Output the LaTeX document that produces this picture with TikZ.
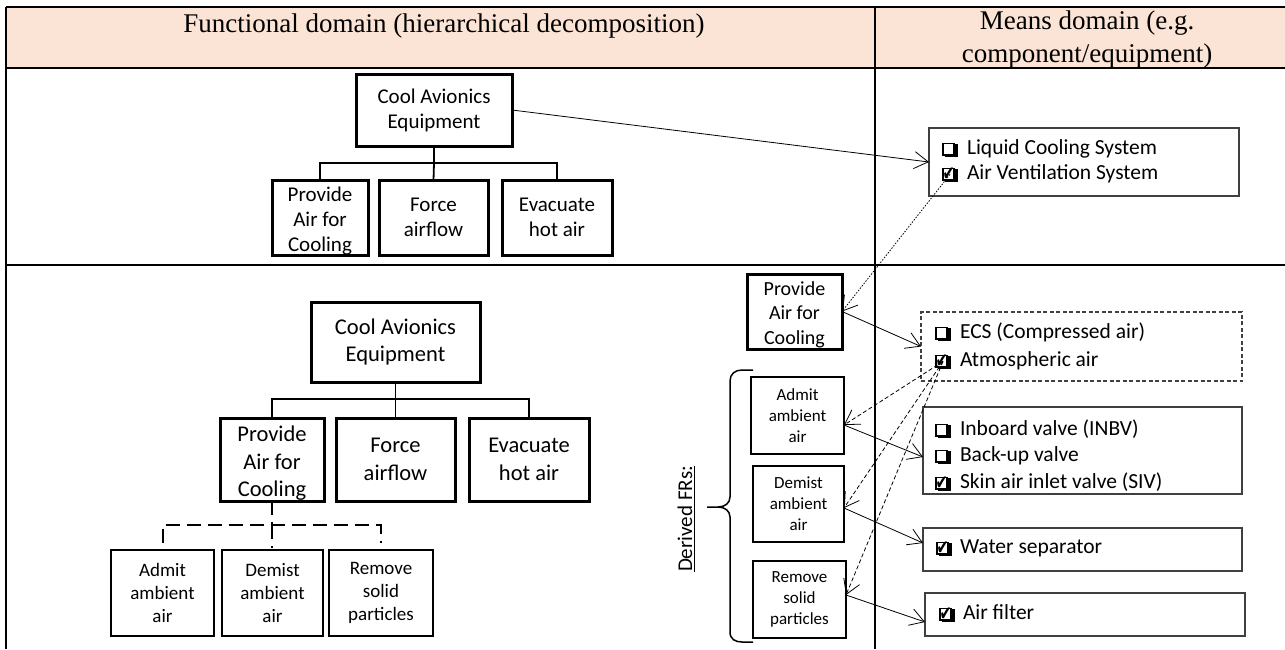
\documentclass[tikz,border=0pt]{standalone}
\usepackage{fontspec}
\usepackage{graphicx}
\setmainfont{Liberation Serif}
\newfontfamily\calfont{Carlito}
\newfontfamily\dvfont{DejaVu Sans}
\usetikzlibrary{arrows.meta,calc}
\definecolor{hdrfill}{HTML}{FBE4D5}
\definecolor{boxgray}{HTML}{404040}
\newcommand\ckbox{\rlap{\kern2.5pt\raisebox{-2.5pt}{\rule{13pt}{13pt}}}{\setlength\fboxrule{1.6pt}\setlength\fboxsep{0pt}\fcolorbox{black}{white}{\rule{0pt}{9.8pt}\hspace{9.8pt}}}}
\newcommand\ckOff{\makebox[16pt][l]{\ckbox}}
\newcommand\ckOn{\makebox[16pt][l]{\rlap{\ckbox}\kern0.5pt\raisebox{-1pt}{\scalebox{0.72}[1]{\dvfont\fontsize{20}{20}\selectfont ✔}}}}
\tikzset{
  thk/.style={draw, line width=3pt, align=center},
  thn/.style={draw, line width=1.8pt, align=center},
  lst/.style={draw=boxgray, line width=1.2pt},
  bx/.style 2 args={minimum width=#1pt, minimum height=#2pt},
  fA/.style={font=\calfont\fontsize{21}{25}\selectfont},
  fB/.style={font=\calfont\fontsize{22.5}{27.5}\selectfont},
  fC/.style={font=\calfont\fontsize{19}{23}\selectfont},
  fD/.style={font=\calfont\fontsize{20}{24.5}\selectfont},
  fE/.style={font=\calfont\fontsize{17}{21}\selectfont},
  fL/.style={font=\calfont\fontsize{21.5}{26}\selectfont},
  itm/.style={anchor=base west},
  hdr/.style={font=\fontsize{27}{30}\selectfont, anchor=base},
  tree/.style={line width=1.8pt},
  dtree/.style={line width=2pt, dash pattern=on 14pt off 7pt},
  arr/.style={line width=0.8pt, -{Straight Barb[length=14pt,width=17pt,line width=0.8pt]}},
  dotarr/.style={arr, dash pattern=on 1.5pt off 1.5pt},
  dasharr/.style={arr, dash pattern=on 4pt off 2.5pt},
  rulel/.style={line width=1.8pt},
  txt/.style={align=center},
}
\begin{document}
\begin{tikzpicture}[x=1pt,y=-1pt, every node/.style={inner sep=0pt, outer sep=0pt}]
\useasboundingbox (0,0) rectangle (1285,649);
% table
\fill[hdrfill] (6,7) rectangle (1285,68);
\draw[rulel] (6,7) -- (1285,7);
\draw[rulel] (6,68) -- (1285,68);
\draw[rulel] (6,265) -- (1285,265);
\draw[rulel] (6,7) -- (6,649);
\draw[rulel] (875,7) -- (875,649);
\node[hdr] (h1) at (444,32) {Functional domain (hierarchical decomposition)};
\node[hdr] (h2) at (1087,29) {Means domain (e.g.};
\node[hdr] (h3) at (1087,62) {component/equipment)};
% row 1
\node[thk,bx={156}{72},fA] (cool1) at (434,110) {Cool Avionics\\Equipment};
\node[thk,bx={96}{75}] (prov1) at (320,217.5) {};
\node[txt,fA] (prov1t) at ([yshift=-4pt]prov1.center) {Provide\\Air for\\Cooling};
\node[thk,bx={109}{75},fA] (force1) at (433.5,217.5) {Force\\airflow};
\node[thk,bx={110}{75},fA] (evac1) at (557,217.5) {Evacuate\\hot air};
\coordinate (b1) at (434,163);
\draw[tree] (cool1.south) -- (b1);
\draw[tree] (prov1.north) |- (b1) -| (evac1.north);
\draw[tree] (b1) -- (force1.north);
\node[lst,bx={310}{68}] (liq) at (1084,162) {};
\node[itm] (ck1) at (942,154) {\ckOff};
\node[itm,fL] (t1) at (967,154) {Liquid Cooling System};
\node[itm] (ck2) at (942,179) {\ckOn};
\node[itm,fL] (t2) at (967,179) {Air Ventilation System};
\draw[arr] (cool1.east) -- (liq.west);
% row 2 left
\node[thk,bx={169}{80},fB] (cool2) at (395.5,342) {Cool Avionics\\Equipment};
\node[thk,bx={104}{83}] (prov2) at (272,459.5) {};
\node[txt,fB] (prov2t) at ([yshift=-4pt]prov2.center) {Provide\\Air for\\Cooling};
\node[thk,bx={119}{83},fB] (force2) at (395.5,459.5) {Force\\airflow};
\node[thk,bx={120}{83},fB] (evac2) at (529,459.5) {Evacuate\\hot air};
\coordinate (b2) at (395.5,399);
\draw[tree] (cool2.south) -- (b2);
\draw[tree] (prov2.north) |- (b2) -| (evac2.north);
\draw[tree] (b2) -- (force2.north);
\node[thn,bx={103}{86},fC] (admit2) at (162.5,593) {Admit\\ambient\\air};
\node[thn,bx={101}{86},fC] (demist2) at (272.5,593) {Demist\\ambient\\air};
\node[thn,bx={104}{86},fC] (remove2) at (381,593) {Remove\\solid\\particles};
\coordinate (d2) at (272,525);
\coordinate (d2l) at ($(admit2.north)+(0,-7)$);
\coordinate (d2r) at ($(remove2.north)+(0,-7)$);
\coordinate (d2m) at (272,548);
\draw[dtree] (prov2.south) -- (d2);
\draw[dtree] (d2l) |- (d2) -| (d2r);
\draw[dtree] (d2) -- (d2m);
% row 2 right
\node[thk,bx={95}{75}] (provR) at (794.5,311.5) {};
\node[txt,fD] (provRt) at ([yshift=-3pt]provR.center) {Provide\\Air for\\Cooling};
\node[thn,bx={93}{77},fE] (admitR) at (797.5,415.5) {Admit\\ambient\\air};
\node[thn,bx={91}{76},fE] (demistR) at (798.5,504) {Demist\\ambient\\air};
\node[thn,bx={93}{77},fE] (removeR) at (799.5,599.5) {Remove\\solid\\particles};
\node[fA, rotate=90] (dfr) at (686,519) {\underline{Derived FRs:}};
\draw[line width=1.5pt] (753,370) -- (742,370) .. controls (735,370) and (730,374) .. (730,381) -- (730,497) .. controls (730,503) and (725,507) .. (718,507) -- (707,507) -- (718,507) .. controls (725,507) and (730,511) .. (730,517) -- (730,632) .. controls (730,639) and (735,642) .. (742,642) -- (753,642);
\node[draw=boxgray, line width=1.1pt, dash pattern=on 4pt off 2.5pt, bx={321}{69}] (ecs) at (1081.5,346.5) {};
\node[itm] (ck3) at (935,338) {\ckOff};
\node[itm,fL] (t3) at (960,338) {ECS (Compressed air)};
\node[itm] (ck4) at (935,366) {\ckOn};
\node[itm,fL] (t4) at (960,366) {Atmospheric air};
\node[lst,bx={319}{87}] (inb) at (1082.5,450.5) {};
\node[itm] (ck5) at (935,435) {\ckOff};
\node[itm,fL] (t5) at (960,435) {Inboard valve (INBV)};
\node[itm] (ck6) at (935,461) {\ckOff};
\node[itm,fL] (t6) at (960,461) {Back-up valve};
\node[itm] (ck7) at (935,488) {\ckOn};
\node[itm,fL] (t7) at (960,488) {Skin air inlet valve (SIV)};
\node[lst,bx={319}{43}] (water) at (1082.5,549.5) {};
\node[itm] (ck8) at (936,553) {\ckOn};
\node[itm,fL] (t8) at (960,553) {Water separator};
\node[lst,bx={320}{43}] (airf) at (1085,614.5) {};
\node[itm] (ck9) at (939,619) {\ckOn};
\node[itm,fL] (t9) at (963,619) {Air filter};
% connectors
\coordinate (pA) at ([yshift=-9.5pt]admitR.east);
\coordinate (pD) at ([yshift=-4pt]demistR.east);
\coordinate (pR) at ([yshift=4.5pt]removeR.east);
\draw[dotarr] (ck2.center) -- (provR.east);
\draw[arr] (provR.east) -- (ecs.west);
\draw[dasharr] (ck4.center) -- (pA);
\draw[dasharr] (ck4.center) -- (pD);
\draw[dasharr] (ck4.center) -- (pR);
\draw[arr] (pA) -- ([yshift=-6.5pt]inb.west);
\draw[arr] (pD) -- ([yshift=6.5pt]water.west);
\draw[arr] (pR) -- ([yshift=-7.5pt]airf.west);
\end{tikzpicture}
\end{document}
